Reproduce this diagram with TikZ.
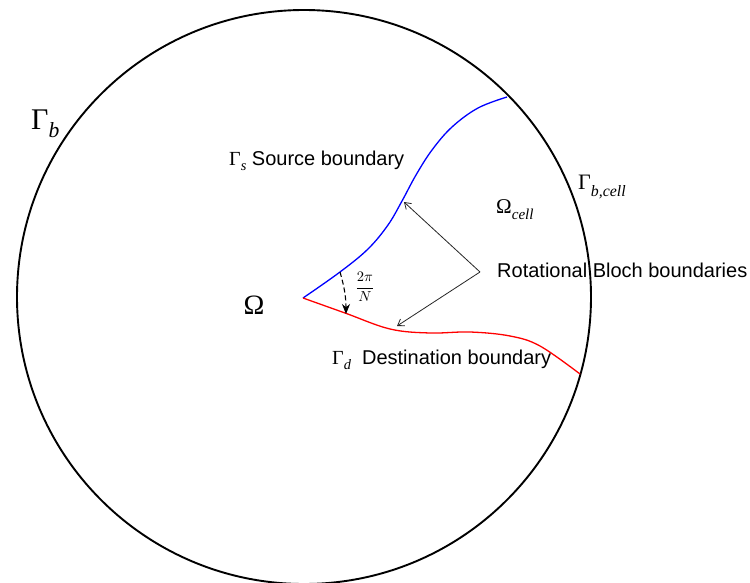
\documentclass[tikz,border=0pt]{standalone}
\usepackage{fontspec}
\usepackage{graphicx}
\setmainfont{Liberation Sans}
\newfontfamily\serifgr{Liberation Serif}
\usetikzlibrary{arrows.meta}
% #1 size, #2 symbol, #3 subscript
\newcommand{\gsym}[3]{{\fontsize{#1}{#1}\selectfont\serifgr #2\raisebox{-0.28em}{\fontsize{\fpeval{0.72*#1}}{#1}\selectfont\itshape #3}}}
\begin{document}
\begin{tikzpicture}[x=1pt,y=-1pt,
  lbl/.style={inner sep=0pt,anchor=west,font=\fontsize{20}{24}\selectfont},
  pointer/.style={draw=black!85,line width=0.8pt,-{Straight Barb[length=6pt,width=8pt]}},
  src/.style={draw=blue,line width=1.3pt},
  dst/.style={draw=red,line width=1.3pt}]
\useasboundingbox (0,0) rectangle (750,583);
\fill[white] (0,0) rectangle (750,583);
% outer boundary
\coordinate (C) at (304,297);
\draw[line width=1.9pt] (C) circle[radius=287];
% apex and end points
\coordinate (A) at (303,298);
\coordinate (BE) at (507,97);
\coordinate (RE) at (580,374);
\draw[src] plot[smooth,tension=0.6] coordinates {(A) (340,272) (368,249) (388,225) (402,201) (416,175) (432,150) (452,127) (478,108) (BE)};
\draw[dst] plot[smooth,tension=0.6] coordinates {(A) (345,313) (390,329) (430,333) (470,332) (510,336) (540,346) (RE)};
% pointers
\coordinate (J) at (480,272);
\coordinate (PB) at (404,202);
\coordinate (PR) at (397,326);
\draw[pointer] (J) -- (PB);
\draw[pointer] (J) -- (PR);
% angle arrow
\coordinate (DS) at (340,272);
\coordinate (DE) at (346,314);
\draw[line width=1.1pt,dashed,dash pattern=on 5pt off 3pt,-{Stealth[length=10pt,width=8pt]}] (DS) to[bend left=8] (DE);
\node[inner sep=0pt] (frac) at (365,287) {\scalebox{1.45}{$\displaystyle\frac{2\pi}{N}$}};
% labels
\node[inner sep=0pt,anchor=west] (Gb) at (31,124) {\gsym{30}{Γ}{b}};
\node[inner sep=0pt] (Om) at (254,305) {{\fontsize{28}{30}\selectfont\serifgr Ω}};
\node[lbl] (Gs) at (229,161) {\gsym{20}{Γ}{s} Source boundary};
\node[lbl] (Gd) at (332,360) {\gsym{20}{Γ}{d}\ \ Destination boundary};
\node[lbl] (RB) at (497,270) {Rotational Bloch boundaries};
\node[inner sep=0pt,anchor=west] (Oc) at (496,210) {\gsym{21}{Ω}{cell}};
\node[inner sep=0pt,anchor=west] (Gbc) at (578,187) {\gsym{22}{Γ}{b,cell}};
\end{tikzpicture}
\end{document}
